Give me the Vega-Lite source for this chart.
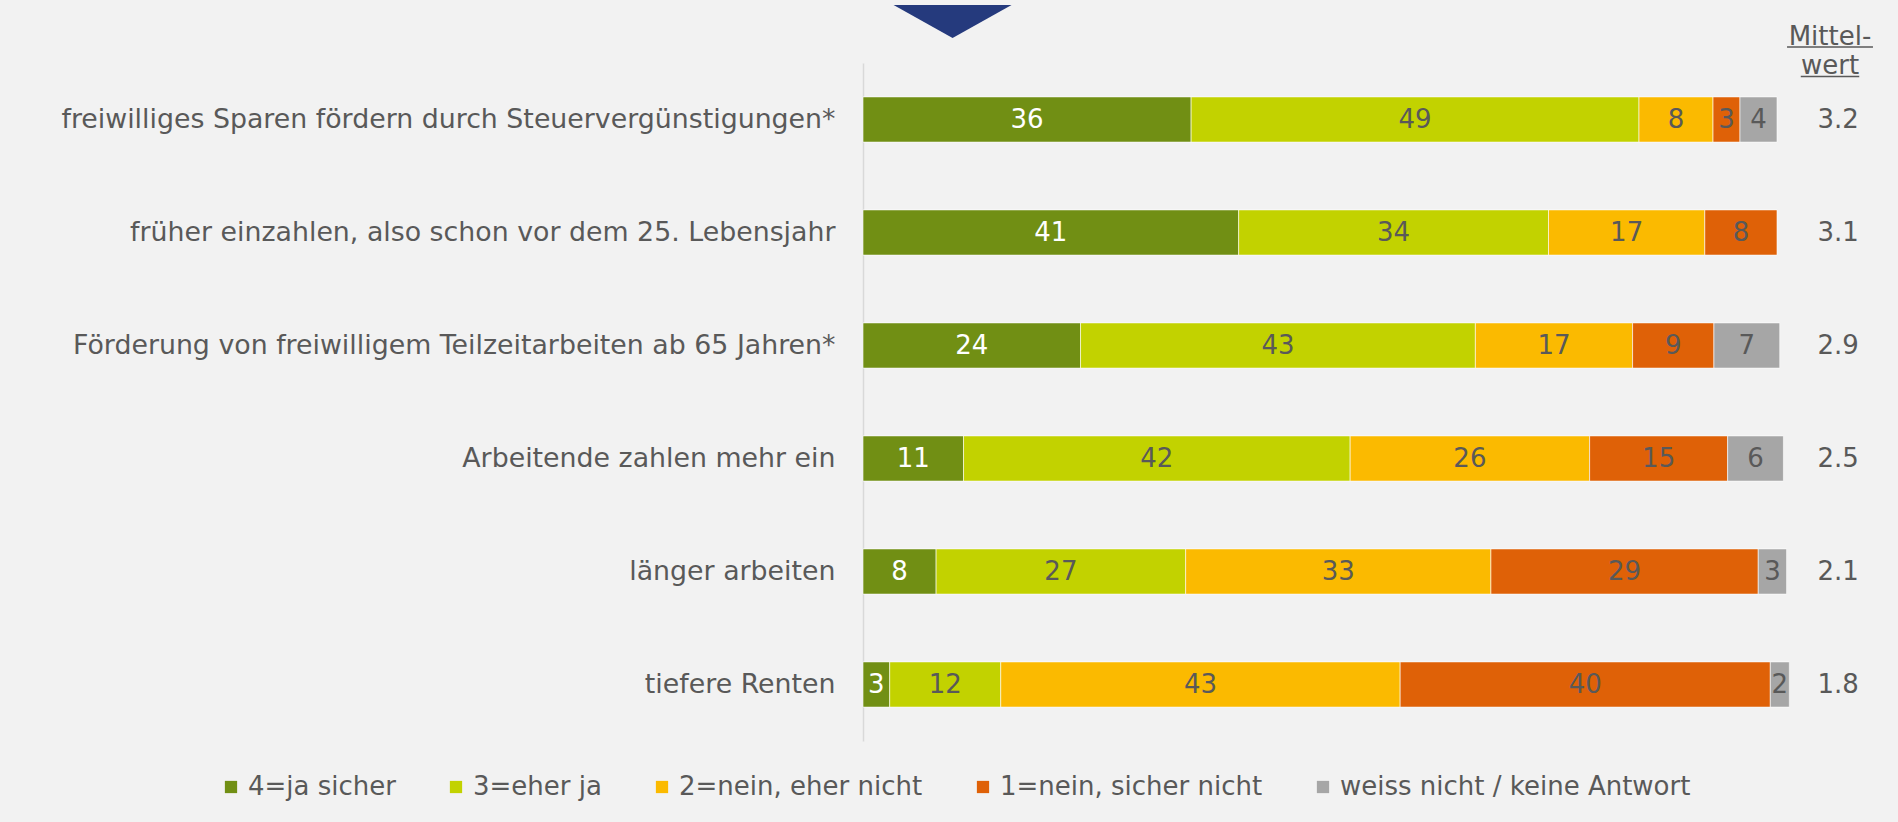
{
  "$schema": "https://vega.github.io/schema/vega-lite/v6.json",
  "autosize": "none",
  "width": 914,
  "height": 678,
  "padding": {"left": 863, "top": 63, "right": 121, "bottom": 81},
  "background": "#f2f2f2",
  "config": {"view": {"stroke": null}, "font": "DejaVu Sans"},
  "datasets": {
    "answers": [
      {"item": "freiwilliges Sparen fördern durch Steuervergünstigungen*", "cat": "4=ja sicher", "code": 4, "pct": 35.9, "label": 36},
      {"item": "freiwilliges Sparen fördern durch Steuervergünstigungen*", "cat": "3=eher ja", "code": 3, "pct": 49.0, "label": 49},
      {"item": "freiwilliges Sparen fördern durch Steuervergünstigungen*", "cat": "2=nein, eher nicht", "code": 2, "pct": 8.1, "label": 8},
      {"item": "freiwilliges Sparen fördern durch Steuervergünstigungen*", "cat": "1=nein, sicher nicht", "code": 1, "pct": 2.95, "label": 3},
      {"item": "freiwilliges Sparen fördern durch Steuervergünstigungen*", "cat": "weiss nicht / keine Antwort", "code": 0, "pct": 4.05, "label": 4},
      {"item": "früher einzahlen, also schon vor dem 25. Lebensjahr", "cat": "4=ja sicher", "code": 4, "pct": 41.1, "label": 41},
      {"item": "früher einzahlen, also schon vor dem 25. Lebensjahr", "cat": "3=eher ja", "code": 3, "pct": 33.9, "label": 34},
      {"item": "früher einzahlen, also schon vor dem 25. Lebensjahr", "cat": "2=nein, eher nicht", "code": 2, "pct": 17.1, "label": 17},
      {"item": "früher einzahlen, also schon vor dem 25. Lebensjahr", "cat": "1=nein, sicher nicht", "code": 1, "pct": 7.9, "label": 8},
      {"item": "Förderung von freiwilligem Teilzeitarbeiten ab 65 Jahren*", "cat": "4=ja sicher", "code": 4, "pct": 23.8, "label": 24},
      {"item": "Förderung von freiwilligem Teilzeitarbeiten ab 65 Jahren*", "cat": "3=eher ja", "code": 3, "pct": 43.2, "label": 43},
      {"item": "Förderung von freiwilligem Teilzeitarbeiten ab 65 Jahren*", "cat": "2=nein, eher nicht", "code": 2, "pct": 17.2, "label": 17},
      {"item": "Förderung von freiwilligem Teilzeitarbeiten ab 65 Jahren*", "cat": "1=nein, sicher nicht", "code": 1, "pct": 8.9, "label": 9},
      {"item": "Förderung von freiwilligem Teilzeitarbeiten ab 65 Jahren*", "cat": "weiss nicht / keine Antwort", "code": 0, "pct": 7.2, "label": 7},
      {"item": "Arbeitende zahlen mehr ein", "cat": "4=ja sicher", "code": 4, "pct": 11.0, "label": 11},
      {"item": "Arbeitende zahlen mehr ein", "cat": "3=eher ja", "code": 3, "pct": 42.3, "label": 42},
      {"item": "Arbeitende zahlen mehr ein", "cat": "2=nein, eher nicht", "code": 2, "pct": 26.2, "label": 26},
      {"item": "Arbeitende zahlen mehr ein", "cat": "1=nein, sicher nicht", "code": 1, "pct": 15.1, "label": 15},
      {"item": "Arbeitende zahlen mehr ein", "cat": "weiss nicht / keine Antwort", "code": 0, "pct": 6.1, "label": 6},
      {"item": "länger arbeiten", "cat": "4=ja sicher", "code": 4, "pct": 8.0, "label": 8},
      {"item": "länger arbeiten", "cat": "3=eher ja", "code": 3, "pct": 27.3, "label": 27},
      {"item": "länger arbeiten", "cat": "2=nein, eher nicht", "code": 2, "pct": 33.4, "label": 33},
      {"item": "länger arbeiten", "cat": "1=nein, sicher nicht", "code": 1, "pct": 29.25, "label": 29},
      {"item": "länger arbeiten", "cat": "weiss nicht / keine Antwort", "code": 0, "pct": 3.1, "label": 3},
      {"item": "tiefere Renten", "cat": "4=ja sicher", "code": 4, "pct": 2.92, "label": 3},
      {"item": "tiefere Renten", "cat": "3=eher ja", "code": 3, "pct": 12.15, "label": 12},
      {"item": "tiefere Renten", "cat": "2=nein, eher nicht", "code": 2, "pct": 43.7, "label": 43},
      {"item": "tiefere Renten", "cat": "1=nein, sicher nicht", "code": 1, "pct": 40.5, "label": 40},
      {"item": "tiefere Renten", "cat": "weiss nicht / keine Antwort", "code": 0, "pct": 2.08, "label": 2}
    ],
    "means": [
      {"item": "freiwilliges Sparen fördern durch Steuervergünstigungen*", "mean": "3.2"},
      {"item": "früher einzahlen, also schon vor dem 25. Lebensjahr", "mean": "3.1"},
      {"item": "Förderung von freiwilligem Teilzeitarbeiten ab 65 Jahren*", "mean": "2.9"},
      {"item": "Arbeitende zahlen mehr ein", "mean": "2.5"},
      {"item": "länger arbeiten", "mean": "2.1"},
      {"item": "tiefere Renten", "mean": "1.8"}
    ]
  },
  "layer": [
    {
      "data": {"name": "answers"},
      "transform": [
        {"stack": "pct", "groupby": ["item"], "sort": [{"field": "code", "order": "descending"}], "as": ["x0", "x1"]}
      ],
      "mark": {"type": "bar", "stroke": "#ffffff", "strokeWidth": 1, "strokeOpacity": 0.6},
      "encoding": {
        "y": {
          "field": "item", "type": "nominal",
          "sort": ["freiwilliges Sparen fördern durch Steuervergünstigungen*", "früher einzahlen, also schon vor dem 25. Lebensjahr", "Förderung von freiwilligem Teilzeitarbeiten ab 65 Jahren*", "Arbeitende zahlen mehr ein", "länger arbeiten", "tiefere Renten"],
          "scale": {"paddingInner": 0.6, "paddingOuter": 0.3},
          "axis": {"title": null, "ticks": false, "labelPadding": 28, "labelFontSize": 26.8, "labelColor": "#595959", "labelFont": "DejaVu Sans", "labelLimit": 900, "domainColor": "#d9d9d9", "domainWidth": 1.5}
        },
        "x": {"field": "x0", "type": "quantitative", "scale": {"domain": [0, 100], "nice": false}, "axis": null},
        "x2": {"field": "x1"},
        "color": {
          "field": "cat", "type": "nominal",
          "scale": {
            "domain": ["4=ja sicher", "3=eher ja", "2=nein, eher nicht", "1=nein, sicher nicht", "weiss nicht / keine Antwort"],
            "range": ["#718f14", "#c2d200", "#fbba00", "#df6107", "#a6a6a6"]
          },
          "legend": {
            "title": null, "orient": "none", "direction": "horizontal", "columns": 5,
            "legendX": -645, "legendY": 711,
            "symbolType": "square", "symbolSize": 150, "symbolStrokeWidth": 0, "symbolOpacity": 1,
            "labelFont": "DejaVu Sans", "labelFontSize": 26, "labelColor": "#595959", "labelOffset": 4,
            "columnPadding": 47, "labelLimit": 600
          }
        }
      }
    },
    {
      "data": {"name": "answers"},
      "transform": [
        {"stack": "pct", "groupby": ["item"], "sort": [{"field": "code", "order": "descending"}], "as": ["x0", "x1"]},
        {"fold": ["x0", "x1"], "as": ["edge", "pos"]},
        {"aggregate": [{"op": "mean", "field": "pos", "as": "mid"}], "groupby": ["item", "cat", "code", "label"]}
      ],
      "mark": {"type": "text", "fontSize": 26, "font": "DejaVu Sans", "align": "center", "baseline": "middle"},
      "encoding": {
        "y": {"field": "item", "type": "nominal", "sort": ["freiwilliges Sparen fördern durch Steuervergünstigungen*", "früher einzahlen, also schon vor dem 25. Lebensjahr", "Förderung von freiwilligem Teilzeitarbeiten ab 65 Jahren*", "Arbeitende zahlen mehr ein", "länger arbeiten", "tiefere Renten"]},
        "x": {"field": "mid", "type": "quantitative"},
        "text": {"field": "label", "type": "quantitative"},
        "color": {"condition": {"test": "datum.code === 4", "value": "#ffffff"}, "value": "#595959"}
      }
    },
    {
      "data": {"name": "means"},
      "mark": {"type": "text", "fontSize": 26, "font": "DejaVu Sans", "align": "center", "baseline": "middle", "color": "#595959"},
      "encoding": {
        "y": {"field": "item", "type": "nominal", "sort": ["freiwilliges Sparen fördern durch Steuervergünstigungen*", "früher einzahlen, also schon vor dem 25. Lebensjahr", "Förderung von freiwilligem Teilzeitarbeiten ab 65 Jahren*", "Arbeitende zahlen mehr ein", "länger arbeiten", "tiefere Renten"]},
        "x": {"datum": 106.7, "type": "quantitative"},
        "text": {"field": "mean"}
      }
    },
    {
      "data": {"values": [{"item": "freiwilliges Sparen fördern durch Steuervergünstigungen*", "head": "Mittel-"}]},
      "mark": {"type": "text", "fontSize": 26, "font": "DejaVu Sans", "align": "center", "baseline": "alphabetic", "color": "#595959", "dy": -74.5},
      "encoding": {
        "y": {"field": "item", "type": "nominal", "sort": ["freiwilliges Sparen fördern durch Steuervergünstigungen*", "früher einzahlen, also schon vor dem 25. Lebensjahr", "Förderung von freiwilligem Teilzeitarbeiten ab 65 Jahren*", "Arbeitende zahlen mehr ein", "länger arbeiten", "tiefere Renten"]},
        "x": {"datum": 105.8, "type": "quantitative"},
        "text": {"field": "head"}
      }
    },
    {
      "data": {"values": [{"item": "freiwilliges Sparen fördern durch Steuervergünstigungen*", "head": "wert"}]},
      "mark": {"type": "text", "fontSize": 26, "font": "DejaVu Sans", "align": "center", "baseline": "alphabetic", "color": "#595959", "dy": -45.5},
      "encoding": {
        "y": {"field": "item", "type": "nominal", "sort": ["freiwilliges Sparen fördern durch Steuervergünstigungen*", "früher einzahlen, also schon vor dem 25. Lebensjahr", "Förderung von freiwilligem Teilzeitarbeiten ab 65 Jahren*", "Arbeitende zahlen mehr ein", "länger arbeiten", "tiefere Renten"]},
        "x": {"datum": 105.8, "type": "quantitative"},
        "text": {"field": "head"}
      }
    },
    {
      "data": {"values": [{"item": "freiwilliges Sparen fördern durch Steuervergünstigungen*"}]},
      "mark": {"type": "rule", "color": "#595959", "strokeWidth": 1.5, "yOffset": -72.5},
      "encoding": {
        "y": {"field": "item", "type": "nominal", "sort": ["freiwilliges Sparen fördern durch Steuervergünstigungen*", "früher einzahlen, also schon vor dem 25. Lebensjahr", "Förderung von freiwilligem Teilzeitarbeiten ab 65 Jahren*", "Arbeitende zahlen mehr ein", "länger arbeiten", "tiefere Renten"]},
        "x": {"datum": 101.1, "type": "quantitative"},
        "x2": {"datum": 110.5}
      }
    },
    {
      "data": {"values": [{"item": "freiwilliges Sparen fördern durch Steuervergünstigungen*"}]},
      "mark": {"type": "rule", "color": "#595959", "strokeWidth": 1.5, "yOffset": -43},
      "encoding": {
        "y": {"field": "item", "type": "nominal", "sort": ["freiwilliges Sparen fördern durch Steuervergünstigungen*", "früher einzahlen, also schon vor dem 25. Lebensjahr", "Förderung von freiwilligem Teilzeitarbeiten ab 65 Jahren*", "Arbeitende zahlen mehr ein", "länger arbeiten", "tiefere Renten"]},
        "x": {"datum": 102.6, "type": "quantitative"},
        "x2": {"datum": 109.0}
      }
    },
    {
      "data": {"values": [{"item": "freiwilliges Sparen fördern durch Steuervergünstigungen*"}]},
      "mark": {"type": "point", "shape": "M-1,-0.28L1,-0.28L0,0.28Z", "size": 13924, "filled": true, "opacity": 1, "color": "#253a7d", "strokeWidth": 0, "yOffset": -98},
      "encoding": {
        "y": {"field": "item", "type": "nominal", "sort": ["freiwilliges Sparen fördern durch Steuervergünstigungen*", "früher einzahlen, also schon vor dem 25. Lebensjahr", "Förderung von freiwilligem Teilzeitarbeiten ab 65 Jahren*", "Arbeitende zahlen mehr ein", "länger arbeiten", "tiefere Renten"]},
        "x": {"datum": 9.8, "type": "quantitative"}
      }
    }
  ]
}
